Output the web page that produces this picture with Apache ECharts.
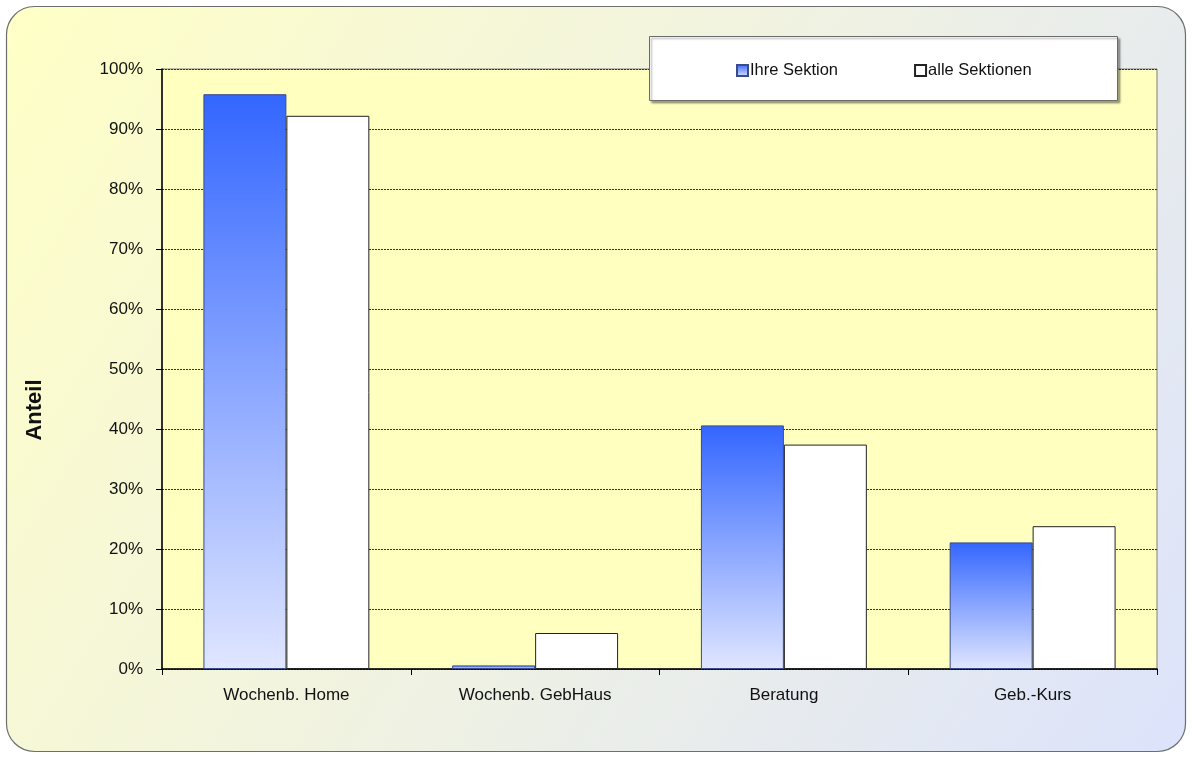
<!DOCTYPE html>
<html><head><meta charset="utf-8">
<script src="https://cdn.jsdelivr.net/npm/echarts@6/dist/echarts.min.js"></script>
<style>html,body{margin:0;padding:0;background:#fff}#c{width:1192px;height:758px}</style>
</head><body><div id="c"></div>
<script>
const categories = ['Wochenb. Home', 'Wochenb. GebHaus', 'Beratung', 'Geb.-Kurs'];
const ihreSektion = [95.8, 0.6, 40.6, 21.1];
const alleSektionen = [92.2, 6.0, 37.4, 23.8];
const seriesNames = ['Ihre Sektion', 'alle Sektionen'];
const axisTitle = 'Anteil';
const FONT = '"Liberation Sans Narrow", "Arial Narrow", "Liberation Sans", Arial, sans-serif';

const chart = echarts.init(document.getElementById('c'));
chart.setOption({
  animation: false,
  textStyle: { fontFamily: FONT },
  graphic: [
    { type: 'rect', z: -10, shape: { x: 6.5, y: 6.5, width: 1179, height: 745, r: 28 },
      style: { fill: new echarts.graphic.LinearGradient(0, 0, 1, 1, [
        { offset: 0, color: '#FFFFC6' }, { offset: 0.5, color: '#F0F2E2' }, { offset: 1, color: '#DCE3FB' }]),
        stroke: '#6E6E6E', lineWidth: 1.2 } },
    { type: 'rect', z: 50, shape: { x: 649.5, y: 36.5, width: 468, height: 64 },
      style: { fill: '#FFFFFF', stroke: '#6A6A6A', lineWidth: 1, shadowColor: 'rgba(0,0,0,0.35)', shadowOffsetX: 2, shadowOffsetY: 2, shadowBlur: 2 } },
    { type: 'text', z: 50, x: 35, y: 410, rotation: Math.PI / 2,
      style: { text: axisTitle, font: 'bold 22px ' + FONT, fill: '#111', textAlign: 'center', textVerticalAlign: 'middle' } }
  ],
  legend: {
    z: 60, left: 731, top: 57, itemWidth: 11, itemHeight: 11, itemGap: 76, icon: 'rect',
    textStyle: { fontFamily: FONT, fontSize: 16.5, color: '#111', padding: [0, 0, 0, -3] },
    data: seriesNames
  },
  grid: { left: 162, right: 35, top: 69, bottom: 89, show: true, backgroundColor: '#FFFFC0', borderColor: '#808080', borderWidth: 1 },
  xAxis: {
    type: 'category', data: categories,
    axisLine: { lineStyle: { color: '#000', width: 1.5 } },
    axisTick: { show: true, length: 6, lineStyle: { color: '#000' } },
    axisLabel: { fontFamily: FONT, fontSize: 17, color: '#111', margin: 18 }
  },
  yAxis: {
    type: 'value', min: 0, max: 100, interval: 10,
    axisLine: { show: true, lineStyle: { color: '#000', width: 1.5 } },
    axisTick: { show: true, length: 6, lineStyle: { color: '#000' } },
    axisLabel: { fontFamily: FONT, fontSize: 17, color: '#111', margin: 19, formatter: '{value}%' },
    splitLine: { show: true, lineStyle: { color: '#333', type: [2, 1], width: 1 } }
  },
  series: [
    { name: seriesNames[0], type: 'bar', data: ihreSektion, barGap: '0%', barCategoryGap: '33.3%',
      itemStyle: { color: new echarts.graphic.LinearGradient(0, 0, 0, 1, [
        { offset: 0, color: '#3366FF' }, { offset: 1, color: '#E0E6FF' }]), borderColor: '#3A4A8A', borderWidth: 1 } },
    { name: seriesNames[1], type: 'bar', data: alleSektionen, barGap: '0%', barCategoryGap: '33.3%',
      itemStyle: { color: '#FFFFFF', borderColor: '#222', borderWidth: 1 } }
  ]
});
</script></body></html>
